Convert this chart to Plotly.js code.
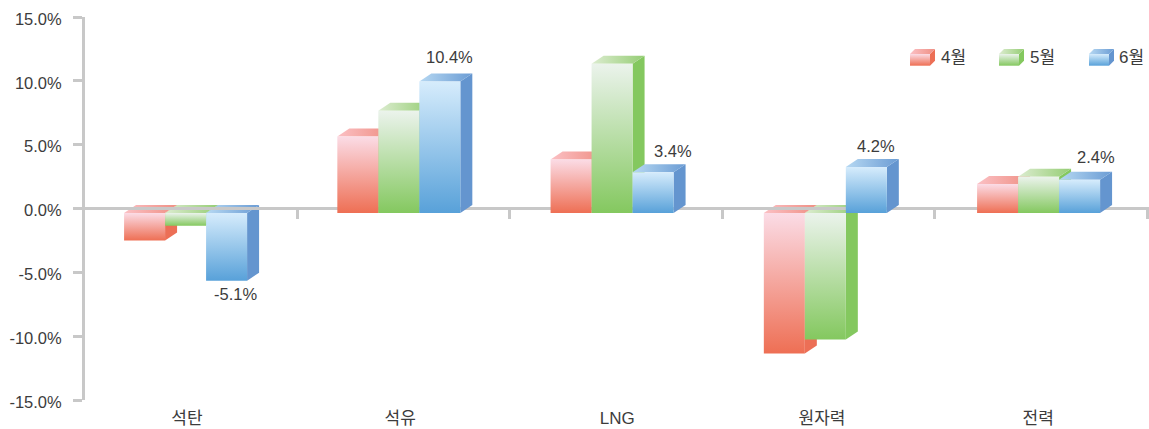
<!DOCTYPE html>
<html>
<head>
<meta charset="utf-8">
<script src="https://cdn.plot.ly/plotly-3.0.1.min.js"></script>
<style>
  html, body { margin: 0; padding: 0; background: #fff; }
  #chart { width: 1149px; height: 429px; }
</style>
</head>
<body>
<div id="chart"></div>
<script>
'use strict';

const categories = ['석탄', '석유', 'LNG', '원자력', '전력'];
const seriesNames = ['4월', '5월', '6월'];

// (the printed labels don't quite agree with them)
const april = [-2.15, 6.0, 4.2, -11.0, 2.27];
const may = [-1.0, 8.0, 11.7, -9.9, 2.84];
const june = [-5.3, 10.3, 3.2, 3.6, 2.6];
const juneLabels = ['-5.1%', '10.4%', '3.4%', '4.2%', '2.4%'];

const yTicks = [-15, -10, -5, 0, 5, 10, 15];
const yTickText = ['-15.0%', '-10.0%', '-5.0%', '0.0%', '5.0%', '10.0%', '15.0%'];

const axisGrey = '#c8c8c8';
const textColor = '#3c3c3c';
const fontFamily = '"Liberation Sans", "Noto Sans CJK KR", sans-serif';

const styles = [
  {front: ['#fbdce6', '#ee6f54'], side: '#ec6f56', top: ['#fbc0c4', '#ef8f84']},
  {front: ['#ebf3ec', '#84c85f'], side: '#84c85f', top: ['#dcecd0', '#95cd74']},
  {front: ['#d6ecfc', '#58a1d9'], side: '#6495cf', top: ['#b6d8f2', '#6b9cd4']}
];

const left = 85;
const plotW = 1064;
const plotH = 383;
const catW = 212.4;
const yScale = plotH / 30;
const xRange = plotW / catW;

const groupStep = 1.004;
const groupStart = 0.184;
const barW = 41 / catW;
const depthX = 12 / catW;
const depthY = 8 / yScale;
const baseDrop = 4.5 / yScale;

function polygon(xs, ys, gradient) {
  const t = {
    x: xs.concat(xs[0]),
    y: ys.concat(ys[0]),
    mode: 'none',
    fill: 'toself',
    hoverinfo: 'skip',
    showlegend: false
  };
  if (typeof gradient === 'string') {
    t.fillcolor = gradient;
  } else {
    t.fillgradient = {
      type: gradient.type,
      start: gradient.start,
      stop: gradient.stop,
      colorscale: [[0, gradient.colors[0]], [1, gradient.colors[1]]]
    };
  }
  return t;
}

// side, top and front of one box, front face spanning y0 (low) to y1 (high)
function box(x, w, y0, y1, dx, dy, style) {
  return [
    polygon([x + w, x + w + dx, x + w + dx, x + w], [y0, y0 + dy, y1 + dy, y1], style.side),
    polygon([x, x + dx, x + w + dx, x + w], [y1, y1 + dy, y1 + dy, y1],
      {type: 'horizontal', start: x, stop: x + w + dx, colors: style.top}),
    polygon([x, x + w, x + w, x], [y0, y0, y1, y1],
      {type: 'vertical', start: y1, stop: y0, colors: style.front})
  ];
}

const seriesValues = [april, may, june];
const negativeTraces = [];
const positiveTraces = [];
const annotations = [];

seriesValues.forEach((values, s) => {
  values.forEach((v, i) => {
    const x = i * groupStep + groupStart + s * barW;
    const base = -baseDrop;
    const end = v - baseDrop;
    const traces = box(x, barW, Math.min(base, end), Math.max(base, end), depthX, depthY, styles[s]);
    (v < 0 ? negativeTraces : positiveTraces).push(...traces);
  });
});

// value labels only sit on the June bars
const labelShiftX = [9, 10, 20, 10, 16];
const labelShiftY = [-13, 25, 21, 21, 23];
juneLabels.forEach((text, i) => {
  annotations.push({
    x: i * groupStep + groupStart + 2.5 * barW,
    y: june[i] - baseDrop,
    xref: 'x',
    yref: 'y',
    text,
    showarrow: false,
    xshift: labelShiftX[i],
    yshift: labelShiftY[i],
    font: {family: fontFamily, size: 16.5, color: textColor}
  });
});

// hand made legend, the native one can't do the little boxes
const legendX = [910, 999, 1089];
const legendTextX = [939, 1028, 1117];
const legendTraces = [];
const toDataX = px => (px - left) / catW;
const toDataY = px => (208.5 - px) / yScale;

seriesNames.forEach((name, s) => {
  const x = toDataX(legendX[s]);
  legendTraces.push(...box(x, 20 / catW, toDataY(65.7), toDataY(54), 5 / catW, 5 / yScale, styles[s]));
  annotations.push({
    x: toDataX(legendTextX[s]),
    y: toDataY(57),
    xref: 'x',
    yref: 'y',
    xanchor: 'left',
    text: name,
    showarrow: false,
    font: {family: fontFamily, size: 17, color: textColor}
  });
});

const zeroLine = {
  x: [0, xRange],
  y: [0, 0],
  mode: 'lines',
  line: {color: axisGrey, width: 3},
  hoverinfo: 'skip',
  showlegend: false
};

// the labels aren't exactly centred in the reference
const catLabelShift = [-0.02, -0.016, 0.006, -0.03, -0.012];
const catCenters = categories.map((c, i) => i + 0.5 + catLabelShift[i]);

// invisible, it only keeps the bottom label axis alive
const labelAxisTrace = {
  x: catCenters,
  y: catCenters.map(() => 0),
  xaxis: 'x2',
  mode: 'markers',
  marker: {opacity: 0},
  hoverinfo: 'skip',
  showlegend: false
};

const data = [labelAxisTrace]
  .concat(negativeTraces, [zeroLine], positiveTraces, legendTraces);

const layout = {
  width: 1149,
  height: 429,
  margin: {l: left, r: 0, t: 17, b: 29, pad: 0},
  paper_bgcolor: '#fff',
  plot_bgcolor: '#fff',
  showlegend: false,
  annotations,
  font: {family: fontFamily, color: textColor},
  xaxis: {
    range: [0, xRange],
    anchor: 'free',
    position: 0.5,
    tickmode: 'array',
    tickvals: [1, 2, 3, 4, 5],
    ticks: 'outside',
    ticklen: 9,
    tickwidth: 3,
    tickcolor: axisGrey,
    showticklabels: false,
    showgrid: false,
    zeroline: false,
    showline: false,
    layer: 'below traces'
  },
  xaxis2: {
    overlaying: 'x',
    anchor: 'y',
    side: 'bottom',
    range: [0, xRange],
    tickmode: 'array',
    tickvals: catCenters,
    ticktext: categories,
    ticks: '',
    ticklabelstandoff: 6,
    tickfont: {family: fontFamily, size: 17, color: textColor},
    showgrid: false,
    zeroline: false,
    showline: false
  },
  yaxis: {
    range: [-15, 15],
    tickmode: 'array',
    tickvals: yTicks,
    ticktext: yTickText,
    ticks: 'outside',
    ticklen: 9,
    tickwidth: 3,
    tickcolor: axisGrey,
    ticklabelstandoff: 8,
    ticklabelshift: 2,
    tickfont: {family: fontFamily, size: 16.5, color: textColor},
    showgrid: false,
    zeroline: false,
    showline: true,
    linecolor: axisGrey,
    linewidth: 3,
    layer: 'below traces'
  }
};

Plotly.newPlot('chart', data, layout, {displayModeBar: false, responsive: false});
</script>
</body>
</html>
